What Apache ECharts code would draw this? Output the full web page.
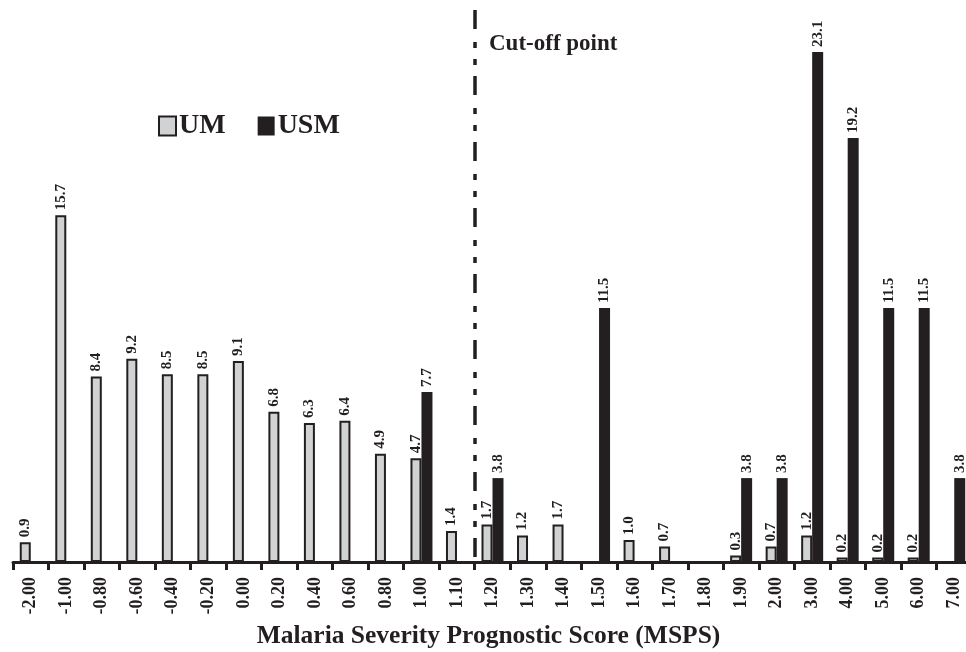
<!DOCTYPE html>
<html>
<head>
<meta charset="utf-8">
<script src="https://cdn.jsdelivr.net/npm/echarts@6/dist/echarts.min.js"></script>
<style>
html,body{margin:0;padding:0;background:#fff;}
#chart{width:966px;height:652px;}
</style>
</head>
<body>
<div id="chart"></div>
<script>
const categories = ['-2.00','-1.00','-0.80','-0.60','-0.40','-0.20','0.00','0.20','0.40','0.60','0.80','1.00','1.10','1.20','1.30','1.40','1.50','1.60','1.70','1.80','1.90','2.00','3.00','4.00','5.00','6.00','7.00'];
const umValues = [0.9,15.7,8.4,9.2,8.5,8.5,9.1,6.8,6.3,6.4,4.9,4.7,1.4,1.7,1.2,1.7,null,1.0,0.7,null,0.3,0.7,1.2,0.2,0.2,0.2,null];
const usmValues = [null,null,null,null,null,null,null,null,null,null,null,7.7,null,3.8,null,null,11.5,null,null,null,3.8,3.8,23.1,19.2,11.5,11.5,3.8];
const seriesNames = ['UM','USM'];
const cutoffBoundary = 13; // boundary between '1.10' and '1.20'
const xAxisName = 'Malaria Severity Prognostic Score (MSPS)';
const cutoffText = 'Cut-off point';

const FONT = "'Liberation Serif','Times New Roman',serif";
const INK = '#231f20';

const chart = echarts.init(document.getElementById('chart'));
const labelCfg = {
  show: true,
  position: 'top',
  rotate: 90,
  align: 'left',
  verticalAlign: 'middle',
  distance: 5,
  fontFamily: FONT,
  fontWeight: 'bold',
  fontSize: 15,
  color: INK,
  formatter: p => (p.value == null ? '' : Number(p.value).toFixed(1))
};

chart.setOption({
  animation: false,
  backgroundColor: '#fff',
  grid: { left: 13, top: 10, width: 959, bottom: 90, containLabel: false, outerBoundsMode: 'none' },
  legend: {
    left: 158, top: 112, padding: 0,
    itemWidth: 17, itemHeight: 19, itemGap: 32,
    icon: 'rect',
    data: seriesNames,
    textStyle: { fontFamily: FONT, fontWeight: 'bold', fontSize: 28, color: INK, padding: [0, 0, 0, -2] }
  },
  xAxis: [{
    type: 'category',
    data: categories,
    axisLine: { lineStyle: { color: INK, width: 3 } },
    axisTick: { show: true, length: 8, lineStyle: { color: INK, width: 3 } },
    axisLabel: { rotate: 90, interval: 0, margin: 15, fontFamily: FONT, fontWeight: 'bold', fontSize: 18, color: INK },
    name: xAxisName,
    nameLocation: 'middle',
    nameGap: 61,
    nameTextStyle: { fontFamily: FONT, fontWeight: 'bold', fontSize: 25.5, color: INK, padding: [0, 8, 0, 0] }
  }, {
    type: 'value', min: 0, max: categories.length, show: false
  }],
  yAxis: { type: 'value', min: 0, max: 25, show: false, splitLine: { show: false } },
  series: [{
    name: seriesNames[0],
    type: 'bar',
    data: umValues,
    barWidth: 11,
    barGap: '0%',
    itemStyle: { color: '#d0d2d3', borderColor: INK, borderWidth: 2 },
    label: labelCfg
  }, {
    name: seriesNames[1],
    type: 'bar',
    data: usmValues,
    barWidth: 11,
    barGap: '0%',
    itemStyle: { color: INK },
    label: labelCfg
  }, {
    type: 'line',
    xAxisIndex: 1,
    data: [],
    markLine: {
      silent: true,
      symbol: 'none',
      label: { show: false },
      lineStyle: { color: INK, width: 3.5, type: [19, 13, 6, 11, 6, 11] },
      data: [[{ coord: [cutoffBoundary, 25] }, { coord: [cutoffBoundary, 0] }]]
    }
  }],
  graphic: [{
    type: 'text',
    left: 489, top: 33,
    style: { text: cutoffText, font: "bold 23px " + FONT, fill: INK }
  }]
});
</script>
</body>
</html>
